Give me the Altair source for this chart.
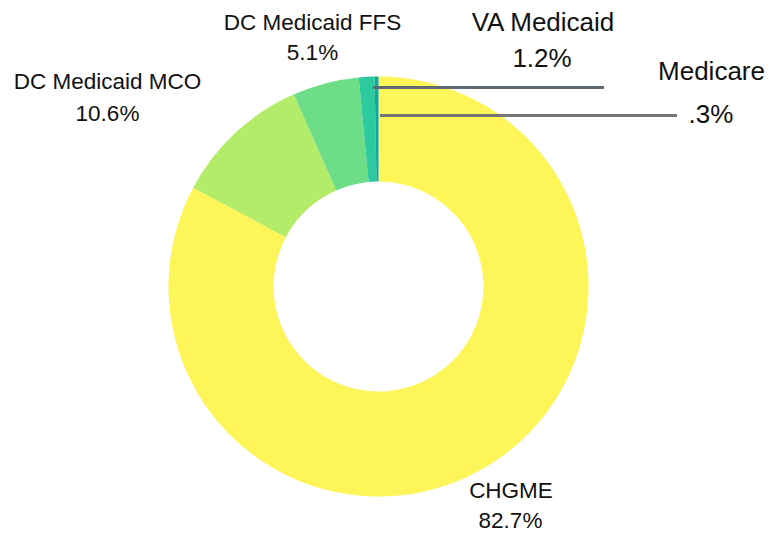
import altair as alt
import pandas as pd

categories = ["CHGME", "DC Medicaid MCO", "DC Medicaid FFS", "VA Medicaid", "Medicare"]
shares = [82.7, 10.6, 5.1, 1.2, 0.3]
share_labels = ["82.7%", "10.6%", "5.1%", "1.2%", ".3%"]
colors = ["#FEF558", "#B3EC69", "#6EDD87", "#2DC99F", "#0CA8A2"]

df = pd.DataFrame({
    "category": categories,
    "share": shares,
    "label": share_labels,
    "order": list(range(len(categories))),
})

M = 8  # page margin
W, H = 766, 525
CX, CY = 378.5 - M, 286.5 - M

donut = alt.Chart(df).mark_arc(innerRadius=105, outerRadius=210, stroke=None).encode(
    theta=alt.Theta("share:Q", stack=True),
    color=alt.Color("category:N", scale=alt.Scale(domain=categories, range=colors), legend=None),
    order=alt.Order("order:Q", sort="ascending"),
    x=alt.value(CX),
    y=alt.value(CY),
)

# label layout: (name x, name baseline y, pct x, pct baseline y, font size)
layout = {
    "CHGME": (511, 498, 510.5, 528, 22.5),
    "DC Medicaid MCO": (107.5, 89, 107.5, 120.5, 22.5),
    "DC Medicaid FFS": (312.5, 30, 312.5, 60, 22.5),
    "VA Medicaid": (543, 31, 542, 66.5, 26),
    "Medicare": (711.5, 80, 711, 123, 26),
}

layers = [donut]
for cat in categories:
    nx, ny, px, py, fs = layout[cat]
    sub = alt.Chart(df).transform_filter(alt.datum.category == cat)
    layers.append(sub.mark_text(font="Liberation Sans", fontSize=fs, color="#111111",
                                align="center", baseline="alphabetic").encode(
        text="category:N", x=alt.value(nx - M), y=alt.value(ny - M)))
    layers.append(sub.mark_text(font="Liberation Sans", fontSize=fs, color="#111111",
                                align="center", baseline="alphabetic").encode(
        text="label:N", x=alt.value(px - M), y=alt.value(py - M)))

# leader lines
va_line = alt.Chart(df).transform_filter(alt.datum.category == "VA Medicaid").mark_rule(
    color="#5E6B75", strokeWidth=3).encode(
    x=alt.value(373 - M), x2=alt.value(604 - M), y=alt.value(87.5 - M))
med_line = alt.Chart(df).transform_filter(alt.datum.category == "Medicare").mark_rule(
    color="#767676", strokeWidth=3).encode(
    x=alt.value(380 - M), x2=alt.value(677 - M), y=alt.value(115.5 - M))
layers += [va_line, med_line]

chart = alt.layer(*layers).properties(
    width=W, height=H, padding=0, autosize=alt.AutoSizeParams(type="none"),
).configure(background="white", view=alt.ViewConfig(stroke=None))

chart.save("out.html", embed_options={"renderer": "svg", "actions": False})
